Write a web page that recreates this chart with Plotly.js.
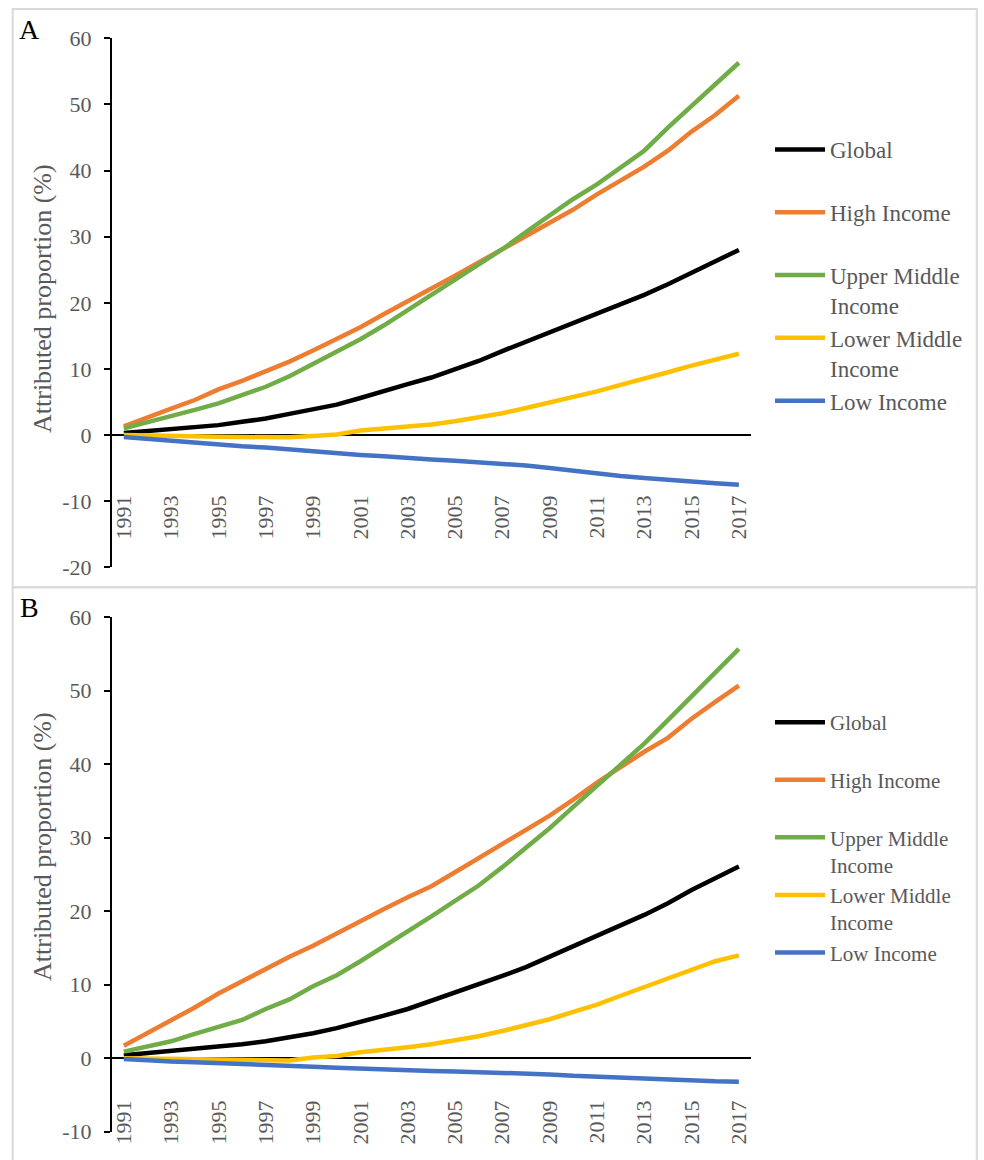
<!DOCTYPE html>
<html><head><meta charset="utf-8">
<script src="https://cdn.plot.ly/plotly-3.0.1.min.js"></script>
<style>html,body{margin:0;padding:0;background:#fff}#chart{width:984px;height:1160px}</style>
</head><body><div id="chart"></div>
<script>
const years = [1991,1992,1993,1994,1995,1996,1997,1998,1999,2000,2001,2002,2003,2004,2005,2006,2007,2008,2009,2010,2011,2012,2013,2014,2015,2016,2017];
const xTickYears = [1991,1993,1995,1997,1999,2001,2003,2005,2007,2009,2011,2013,2015,2017];
const yTickValsA = [-20,-10,0,10,20,30,40,50,60];
const yTickTextA = ['-20','-10','0','10','20','30','40','50','60'];
const yTickValsB = [-10,0,10,20,30,40,50,60];
const yTickTextB = ['-10','0','10','20','30','40','50','60'];
const seriesNames = ['Global','High Income','Upper Middle Income','Lower Middle Income','Low Income'];
const legendLabels = ['Global<br>\u00a0','High Income<br>\u00a0','Upper Middle<br>Income','Lower Middle<br>Income','Low Income<br>\u00a0'];
const colors = ['#000000','#ED7D31','#70AD47','#FFC000','#4472C4'];

// Panel A
const A_global = [0.3,0.6,0.8,1.2,1.5,2.0,2.5,3.2,3.9,4.6,5.6,6.7,7.7,8.7,9.9,11.2,12.7,14.1,15.5,16.9,18.3,19.7,21.2,22.8,24.5,26.2,28.0];
const A_high   = [1.3,2.7,4.0,5.3,6.9,8.2,9.7,11.1,12.8,14.5,16.3,18.3,20.2,22.1,24.1,26.1,28.1,30.0,32.0,34.1,36.4,38.5,40.6,43.0,45.9,48.4,51.3];
const A_upper  = [1.0,1.9,2.8,3.8,4.8,6.0,7.3,8.9,10.8,12.6,14.5,16.6,18.9,21.2,23.5,25.8,28.1,30.7,33.2,35.7,37.9,40.4,43.0,46.5,49.8,53.0,56.3];
const A_lower  = [0,-0.1,-0.15,-0.2,-0.25,-0.3,-0.35,-0.35,-0.15,0.1,0.7,1.0,1.3,1.6,2.1,2.7,3.3,4.1,4.9,5.7,6.6,7.6,8.5,9.5,10.5,11.4,12.3];
const A_low    = [-0.3,-0.6,-0.9,-1.1,-1.4,-1.7,-1.9,-2.2,-2.4,-2.7,-3.0,-3.2,-3.5,-3.7,-3.9,-4.1,-4.3,-4.6,-5.0,-5.4,-5.9,-6.2,-6.5,-6.8,-7.1,-7.3,-7.5];

// Panel B
const B_global = [0.4,0.7,0.95,1.2,1.6,1.9,2.3,2.8,3.4,4.1,4.9,5.8,6.7,7.8,9.0,10.1,11.2,12.4,13.8,15.2,16.6,18.0,19.5,21.1,22.9,24.5,26.1];
const B_high   = [1.7,3.4,5.1,6.9,8.8,10.5,12.2,13.8,15.3,17.0,18.7,20.3,21.9,23.4,25.3,27.2,29.1,31.1,33.0,35.2,37.5,39.6,41.7,43.6,46.2,48.5,50.7];
const B_upper  = [0.9,1.6,2.3,3.3,4.2,5.2,6.7,8.0,9.8,11.3,13.2,15.2,17.2,19.3,21.4,23.5,26.0,28.6,31.3,34.2,37.1,39.9,42.8,46.0,49.2,52.5,55.7];
const B_lower  = [0,-0.05,-0.1,-0.15,-0.2,-0.25,-0.3,-0.3,0.1,0.3,0.8,1.1,1.5,1.9,2.4,3.0,3.7,4.5,5.3,6.3,7.3,8.5,9.7,10.8,12.1,13.2,14.0];
const B_low    = [-0.1,-0.35,-0.45,-0.55,-0.65,-0.75,-0.95,-1.05,-1.15,-1.3,-1.45,-1.6,-1.7,-1.75,-1.8,-1.9,-1.9,-2.05,-2.2,-2.4,-2.55,-2.7,-2.85,-2.95,-3.05,-3.15,-3.2];

const yTitle = 'Attributed proportion (%)';
const FONT = '"Liberation Serif", "Times New Roman", serif';
const GRAY = '#595959';
const W = 984, H = 1160;
const px = v => v / W;
const py = v => 1 - v / H;

const panelA = [A_global, A_high, A_upper, A_lower, A_low];
const panelB = [B_global, B_high, B_upper, B_lower, B_low];

const traces = [];
panelA.forEach((ys, i) => traces.push({
  type: 'scatter', mode: 'lines', x: years, y: ys, name: legendLabels[i],
  xaxis: 'x', yaxis: 'y', legend: 'legend', legendgroup: 'a' + i,
  line: {color: colors[i], width: 4.5}, hoverinfo: 'x+y', hovertext: seriesNames[i]
}));
panelB.forEach((ys, i) => traces.push({
  type: 'scatter', mode: 'lines', x: years, y: ys, name: legendLabels[i],
  xaxis: 'x2', yaxis: 'y2', legend: 'legend2', legendgroup: 'b' + i,
  line: {color: colors[i], width: 4.5}, hoverinfo: 'x+y', hovertext: seriesNames[i]
}));

const xDomain = [px(112), px(750.7)];
function xAxis(pos) {
  return {
    domain: xDomain, range: [1990.5, 2017.5], anchor: 'free', position: pos,
    showline: false, ticks: '', showgrid: false, zeroline: false,
    tickmode: 'array', tickvals: xTickYears, ticktext: xTickYears.map(String),
    tickangle: -90, tickfont: {family: FONT, size: 22, color: GRAY}, fixedrange: true
  };
}
function yAxis(domain, range, anchor, vals, text) {
  return {
    domain: domain, range: range, anchor: anchor, tickmode: 'array', tickvals: vals, ticktext: text,
    showline: true, linecolor: '#000', linewidth: 2, ticks: 'outside', ticklen: 6,
    tickwidth: 2, tickcolor: '#000', showgrid: false,
    zeroline: true, zerolinecolor: '#000', zerolinewidth: 2,
    tickfont: {family: FONT, size: 22, color: GRAY}, ticklabelstandoff: 8, fixedrange: true
  };
}

const layout = {
  width: W, height: H, margin: {l: 0, r: 0, t: 0, b: 0},
  paper_bgcolor: '#fff', plot_bgcolor: 'rgba(0,0,0,0)',
  font: {family: FONT, color: GRAY},
  xaxis: xAxis(py(490)),
  yaxis: yAxis([py(567.3), py(38.3)], [-20, 60], 'x', yTickValsA, yTickTextA),
  xaxis2: xAxis(py(1095)),
  yaxis2: yAxis([py(1131.7), py(617.3)], [-10, 60], 'x2', yTickValsB, yTickTextB),
  legend: {x: px(770), y: py(128), xanchor: 'left', yanchor: 'top', bgcolor: 'rgba(0,0,0,0)',
           font: {family: FONT, size: 23, color: GRAY}, valign: 'top', itemwidth: 50,
           tracegroupgap: 0, traceorder: 'normal'},
  legend2: {x: px(770), y: py(702), xanchor: 'left', yanchor: 'top', bgcolor: 'rgba(0,0,0,0)',
           font: {family: FONT, size: 21, color: GRAY}, valign: 'top', itemwidth: 50,
           tracegroupgap: 0, traceorder: 'normal'},
  shapes: [
    {type: 'rect', xref: 'paper', yref: 'paper', x0: px(12.7), x1: px(976.7), y0: py(587.3), y1: py(9),
     line: {color: '#d9d9d9', width: 2}, fillcolor: 'rgba(0,0,0,0)'},
    {type: 'rect', xref: 'paper', yref: 'paper', x0: px(12.7), x1: px(976.7), y0: py(1170), y1: py(587.3),
     line: {color: '#d9d9d9', width: 2}, fillcolor: 'rgba(0,0,0,0)'}
  ],
  annotations: [
    {text: 'A', xref: 'paper', yref: 'paper', x: px(29), y: py(29), xanchor: 'center', yanchor: 'middle',
     showarrow: false, font: {family: FONT, size: 28, color: '#000'}},
    {text: 'B', xref: 'paper', yref: 'paper', x: px(29), y: py(607), xanchor: 'center', yanchor: 'middle',
     showarrow: false, font: {family: FONT, size: 28, color: '#000'}},
    {text: yTitle, xref: 'paper', yref: 'paper', x: px(42), y: py(299), xanchor: 'center', yanchor: 'middle',
     textangle: -90, showarrow: false, font: {family: FONT, size: 26, color: GRAY}},
    {text: yTitle, xref: 'paper', yref: 'paper', x: px(42), y: py(847), xanchor: 'center', yanchor: 'middle',
     textangle: -90, showarrow: false, font: {family: FONT, size: 26, color: GRAY}}
  ],
  showlegend: true
};

Plotly.newPlot('chart', traces, layout, {displayModeBar: false, staticPlot: true});
</script>
</body></html>
